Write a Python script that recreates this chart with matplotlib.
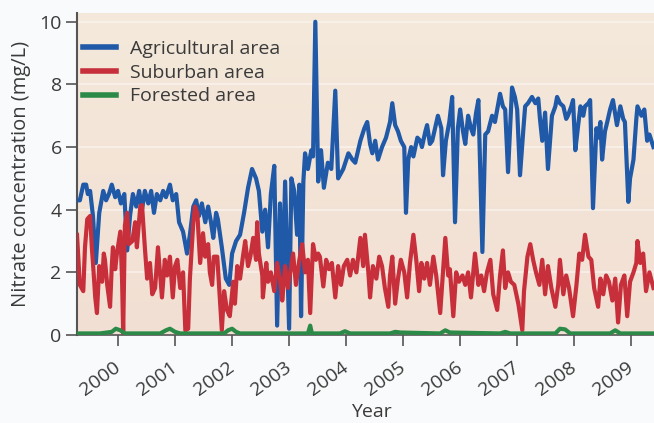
import numpy as np
import matplotlib.pyplot as plt
from matplotlib.colors import LinearSegmentedColormap

# Nitrate concentration (mg/L), x in decimal years
agri_t = [1999.28, 1999.33, 1999.39, 1999.44, 1999.47, 1999.51, 1999.56, 1999.61, 1999.67, 1999.70,
          1999.74, 1999.79, 1999.84, 1999.89, 1999.95, 2000.00, 2000.05, 2000.11, 2000.16, 2000.21,
          2000.26, 2000.32, 2000.37, 2000.42, 2000.47, 2000.53, 2000.58, 2000.63, 2000.68, 2000.74,
          2000.79, 2000.84, 2000.91, 2000.96, 2001.02, 2001.07, 2001.14, 2001.21, 2001.26, 2001.32,
          2001.37, 2001.42, 2001.47, 2001.53, 2001.58, 2001.63, 2001.67, 2001.72, 2001.75, 2001.82,
          2001.89, 2001.95, 2002.00, 2002.07, 2002.14, 2002.21, 2002.28, 2002.35, 2002.42, 2002.47,
          2002.53, 2002.58, 2002.63, 2002.68, 2002.74, 2002.79, 2002.84, 2002.88, 2002.93, 2003.00,
          2003.04, 2003.09, 2003.14, 2003.18, 2003.21, 2003.25, 2003.28, 2003.33, 2003.39, 2003.42,
          2003.46, 2003.51, 2003.56, 2003.61, 2003.68, 2003.74, 2003.81, 2003.86, 2003.95, 2004.04,
          2004.11, 2004.16, 2004.25, 2004.32, 2004.37, 2004.42, 2004.46, 2004.51, 2004.56, 2004.63,
          2004.70, 2004.77, 2004.81, 2004.86, 2004.91, 2004.96, 2005.02, 2005.05, 2005.09, 2005.14,
          2005.18, 2005.25, 2005.30, 2005.33, 2005.39, 2005.42, 2005.47, 2005.51, 2005.56, 2005.61,
          2005.67, 2005.70, 2005.75, 2005.81, 2005.86, 2005.91, 2005.96, 2006.00, 2006.05, 2006.09,
          2006.14, 2006.19, 2006.23, 2006.28, 2006.32, 2006.39, 2006.44, 2006.49, 2006.56, 2006.61,
          2006.65, 2006.70, 2006.75, 2006.79, 2006.84, 2006.91, 2006.96, 2007.00, 2007.05, 2007.11,
          2007.14, 2007.19, 2007.26, 2007.32, 2007.37, 2007.40, 2007.44, 2007.49, 2007.54, 2007.61,
          2007.67, 2007.70, 2007.75, 2007.81, 2007.86, 2007.89, 2007.95, 2007.98, 2008.02, 2008.07,
          2008.11, 2008.16, 2008.19, 2008.25, 2008.28, 2008.33, 2008.39, 2008.42, 2008.46, 2008.49,
          2008.54, 2008.58, 2008.63, 2008.68, 2008.75, 2008.81, 2008.86, 2008.89, 2008.95, 2008.98,
          2009.04, 2009.09, 2009.11, 2009.18, 2009.23, 2009.28, 2009.32, 2009.39]
agri = [4.3, 4.3, 4.8, 4.8, 4.5, 4.6, 3.8, 2.3, 3.9, 4.2,
        4.6, 4.3, 4.5, 4.8, 4.4, 4.6, 4.2, 4.5, 2.7, 3.8,
        4.5, 4.1, 4.6, 4.0, 4.6, 4.2, 4.6, 3.9, 4.5, 4.3,
        4.6, 4.4, 4.8, 4.3, 4.5, 3.6, 3.3, 2.6, 3.2, 4.1,
        4.3, 3.8, 4.2, 3.6, 4.1, 3.6, 3.1, 3.9, 3.7, 2.8,
        1.8, 1.6, 2.6, 3.0, 3.2, 3.9, 4.7, 5.3, 5.0, 4.6,
        3.3, 4.0, 2.8, 4.5, 5.4, 0.3, 4.2, 1.2, 4.9, 0.2,
        5.0, 4.6, 3.2, 4.8, 0.6, 4.9, 5.8, 5.3, 5.9, 5.7,
        10.0, 4.9, 5.9, 4.7, 5.5, 5.3, 7.8, 5.0, 5.3, 5.8,
        5.6, 5.5, 6.2, 6.6, 6.8, 6.1, 5.8, 6.2, 5.6, 6.0,
        6.3, 6.8, 7.4, 6.7, 6.5, 6.2, 6.0, 3.9, 5.6, 6.0,
        5.7, 6.3, 6.2, 6.0, 6.5, 6.7, 6.1, 6.2, 6.6, 7.0,
        6.6, 5.1, 6.2, 6.8, 7.6, 3.6, 6.6, 7.2, 6.5, 6.1,
        7.0, 6.6, 6.4, 7.1, 7.5, 2.65, 6.4, 6.5, 7.0, 6.8,
        7.2, 7.7, 7.3, 7.2, 5.2, 7.9, 7.6, 7.2, 5.1, 6.6,
        7.3, 7.4, 7.6, 7.4, 7.55, 6.9, 6.2, 7.1, 5.3, 7.0,
        7.3, 7.6, 7.4, 7.3, 6.9, 7.0, 7.3, 7.5, 5.9, 6.7,
        7.3, 7.0, 7.3, 7.4, 7.5, 4.05, 6.6, 6.3, 6.8, 5.6,
        6.5, 6.8, 7.2, 7.5, 6.7, 7.3, 6.9, 6.8, 4.25, 5.0,
        5.6, 6.9, 7.3, 7.0, 7.2, 6.2, 6.4, 6.0]

sub_t = [1999.28, 1999.33, 1999.39, 1999.42, 1999.46, 1999.51, 1999.54, 1999.56, 1999.60, 1999.63,
         1999.67, 1999.72, 1999.75, 1999.77, 1999.81, 1999.86, 1999.89, 1999.91, 1999.95, 1999.98,
         2000.04, 2000.07, 2000.09, 2000.12, 2000.16, 2000.19, 2000.25, 2000.30, 2000.33, 2000.39,
         2000.42, 2000.47, 2000.51, 2000.56, 2000.60, 2000.65, 2000.70, 2000.74, 2000.77, 2000.82,
         2000.86, 2000.91, 2000.96, 2001.00, 2001.04, 2001.09, 2001.14, 2001.18, 2001.23, 2001.26,
         2001.32, 2001.35, 2001.39, 2001.44, 2001.49, 2001.53, 2001.58, 2001.61, 2001.65, 2001.68,
         2001.74, 2001.77, 2001.82, 2001.86, 2001.91, 2001.96, 2002.02, 2002.05, 2002.09, 2002.14,
         2002.19, 2002.23, 2002.28, 2002.32, 2002.37, 2002.42, 2002.44, 2002.47, 2002.53, 2002.54,
         2002.60, 2002.63, 2002.68, 2002.74, 2002.79, 2002.84, 2002.88, 2002.93, 2002.98, 2003.02,
         2003.07, 2003.12, 2003.18, 2003.23, 2003.28, 2003.33, 2003.37, 2003.42, 2003.47, 2003.51,
         2003.54, 2003.60, 2003.65, 2003.70, 2003.75, 2003.81, 2003.86, 2003.91, 2003.96, 2004.02,
         2004.07, 2004.12, 2004.18, 2004.25, 2004.30, 2004.33, 2004.39, 2004.42, 2004.47, 2004.53,
         2004.58, 2004.63, 2004.68, 2004.74, 2004.77, 2004.81, 2004.86, 2004.91, 2004.96, 2005.02,
         2005.07, 2005.12, 2005.18, 2005.23, 2005.28, 2005.32, 2005.37, 2005.42, 2005.47, 2005.53,
         2005.58, 2005.65, 2005.68, 2005.74, 2005.79, 2005.82, 2005.88, 2005.93, 2005.98, 2006.04,
         2006.09, 2006.14, 2006.19, 2006.23, 2006.26, 2006.32, 2006.37, 2006.42, 2006.47, 2006.53,
         2006.58, 2006.65, 2006.70, 2006.75, 2006.79, 2006.84, 2006.89, 2006.95, 2007.02, 2007.09,
         2007.12, 2007.18, 2007.23, 2007.28, 2007.33, 2007.39, 2007.44, 2007.49, 2007.54, 2007.60,
         2007.67, 2007.72, 2007.75, 2007.81, 2007.86, 2007.91, 2007.98, 2008.04, 2008.09, 2008.14,
         2008.19, 2008.25, 2008.30, 2008.35, 2008.42, 2008.46, 2008.51, 2008.56, 2008.61, 2008.67,
         2008.72, 2008.77, 2008.82, 2008.88, 2008.93, 2008.98, 2009.04, 2009.09, 2009.11, 2009.16,
         2009.21, 2009.26, 2009.32, 2009.39]
suburban = [3.2, 1.6, 1.4, 2.8, 3.7, 3.8, 2.8, 2.3, 1.2, 0.7,
            2.2, 1.7, 2.6, 2.4, 1.6, 0.9, 2.2, 2.8, 2.1, 2.6,
            3.3, 1.8, 0.05, 3.5, 3.9, 2.9, 3.0, 3.6, 2.8, 4.1,
            4.15, 2.8, 1.8, 2.3, 1.3, 1.5, 2.8, 1.9, 1.2, 2.4,
            1.9, 2.5, 1.2, 2.2, 2.4, 1.5, 2.0, 0.15, 0.2, 1.8,
            3.6, 4.1, 3.9, 2.3, 3.25, 2.5, 2.9, 2.0, 1.6, 2.5,
            2.5, 1.6, 0.15, 1.4, 0.8, 0.6, 1.7, 1.0, 2.2, 1.8,
            2.5, 3.0, 2.2, 2.5, 3.1, 2.4, 3.6, 2.6, 1.9, 1.2,
            2.3, 1.7, 2.0, 1.4, 2.3, 1.8, 1.1, 2.2, 1.5, 2.0,
            2.6, 1.6, 2.4, 2.9, 2.0, 2.4, 0.7, 2.9, 2.4, 2.6,
            2.5, 1.55, 2.4, 2.1, 2.3, 1.2, 2.2, 1.6, 2.2, 2.4,
            1.9, 2.4, 2.0, 3.1, 2.2, 3.2, 2.0, 1.2, 2.2, 1.8,
            2.5, 2.2, 1.5, 0.9, 1.9, 2.5, 1.0, 1.8, 2.4, 2.0,
            1.2, 2.3, 3.2, 2.4, 1.4, 2.3, 1.8, 2.3, 1.6, 2.5,
            1.9, 0.7, 1.5, 3.1, 1.9, 2.1, 0.6, 2.0, 1.7, 1.9,
            1.6, 2.0, 1.2, 2.0, 2.6, 1.6, 1.9, 1.4, 2.0, 2.4,
            1.3, 0.8, 1.9, 2.7, 1.5, 2.0, 1.7, 1.6, 1.0, 0.15,
            1.4, 2.5, 2.9, 2.4, 2.0, 1.6, 2.4, 1.3, 2.2, 1.5,
            0.9, 1.6, 2.4, 1.3, 1.9, 1.5, 0.6, 1.6, 2.6, 2.4,
            3.2, 2.5, 2.4, 1.5, 0.9, 1.8, 1.3, 1.9, 1.7, 1.1,
            1.8, 0.4, 1.6, 1.9, 0.6, 1.7, 2.0, 2.3, 3.0, 2.3,
            2.6, 1.4, 2.0, 1.5]

forest_t = [1999.28, 1999.68, 1999.89, 1999.96, 2000.04, 2000.12, 2000.74, 2000.84, 2000.91, 2001.00,
            2001.09, 2001.86, 2001.93, 2002.00, 2002.07, 2002.14, 2003.33, 2003.37, 2003.40, 2003.89,
            2003.98, 2004.07, 2004.77, 2004.86, 2004.95, 2005.65, 2005.74, 2005.82, 2006.70, 2006.79,
            2006.88, 2007.67, 2007.75, 2007.84, 2007.93, 2008.63, 2008.72, 2008.81, 2009.40]
forest = [0.05, 0.05, 0.1, 0.2, 0.15, 0.05, 0.05, 0.15, 0.2, 0.1,
          0.05, 0.05, 0.15, 0.2, 0.1, 0.05, 0.05, 0.3, 0.05, 0.05,
          0.12, 0.05, 0.05, 0.1, 0.08, 0.05, 0.15, 0.08, 0.05, 0.1,
          0.05, 0.05, 0.2, 0.18, 0.05, 0.05, 0.15, 0.05, 0.05]

years = list(range(2000, 2010))

txt = "#3a3a3a"
plt.rcParams['font.family'] = ['Open Sans', 'DejaVu Sans']

fig = plt.figure(figsize=(6.54, 4.23), dpi=100, facecolor="#f9fafb")
ax = fig.add_axes([77/654, 88/423, 1 - 77/654, 322/423])

# beige panel, a bit pinker toward the bottom
grad = np.linspace(0, 1, 256).reshape(-1, 1)
cm = LinearSegmentedColormap.from_list("bg", ["#f2dfd3", "#f4e9da"])
ax.imshow(grad, cmap=cm, aspect="auto", extent=[0, 1, 0, 1], origin="lower",
          transform=ax.transAxes, zorder=0)

for y in [2, 4, 6, 8, 10]:
    ax.axhline(y, color="white", lw=1.2, alpha=0.5, zorder=1)

ax.plot(agri_t, agri, color="#1f59a7", lw=3.0, label="Agricultural area", zorder=3)
ax.plot(sub_t, suburban, color="#c72f3b", lw=3.0, label="Suburban area", zorder=4)
ax.plot(forest_t, forest, color="#2b8a47", lw=3.0, label="Forested area", zorder=5)

ax.set_xlim(1999.28, 2009.40)
ax.set_ylim(0, 10.28)
ax.set_yticks([0, 2, 4, 6, 8, 10])
ax.set_xticks(years)
ax.set_xticklabels([str(y) for y in years], rotation=36, ha="right", va="center",
                   rotation_mode="anchor")
ax.tick_params(axis="both", colors="#555555", labelcolor=txt, labelsize=14,
               length=8, width=1.2, direction="out")
ax.tick_params(axis="x", pad=14)
ax.tick_params(axis="y", pad=3)

for s in ["top", "right"]:
    ax.spines[s].set_visible(False)
ax.spines["left"].set_color("#555555")
ax.spines["left"].set_linewidth(1.5)
ax.spines["bottom"].set_color("#555555")
ax.spines["bottom"].set_linewidth(1.2)

ax.set_ylabel("Nitrate concentration (mg/L)", fontsize=14.5, color=txt)
ax.yaxis.set_label_coords(-0.08, 0.5)
ax.set_xlabel("Year", fontsize=14, color=txt)
ax.xaxis.set_label_coords(0.511, -0.212)

leg = ax.legend(loc="upper left", bbox_to_anchor=(0.0, 0.935), frameon=False,
                fontsize=14, handlelength=1.7, handletextpad=0.7,
                labelspacing=0.3, borderaxespad=0.0, borderpad=0.3,
                labelcolor=txt)
for h in leg.get_lines():
    h.set_linewidth(4)

fig.savefig("out.png", dpi=100, facecolor=fig.get_facecolor())
